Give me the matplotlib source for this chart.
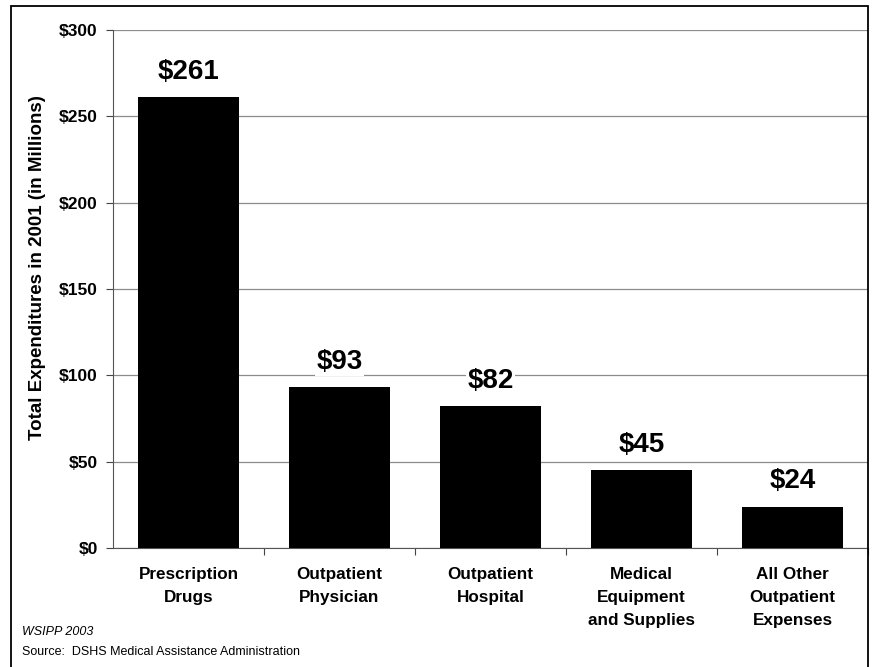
import matplotlib.pyplot as plt
from matplotlib.patches import Rectangle

plt.rcParams['font.family'] = ['Liberation Sans', 'DejaVu Sans']

categories = ["Prescription\nDrugs", "Outpatient\nPhysician", "Outpatient\nHospital",
              "Medical\nEquipment\nand Supplies", "All Other\nOutpatient\nExpenses"]
spending = [261, 93, 82, 45, 24]
yticks = [0, 50, 100, 150, 200, 250, 300]

fig = plt.figure(figsize=(8.77, 6.67), dpi=100)
ax = fig.add_axes([113 / 877, 1 - 548 / 667, 755 / 877, 518 / 667])

x = range(len(spending))
ax.bar(x, spending, width=0.67, color="black", zorder=3)

for xi, v in zip(x, spending):
    ax.annotate(f"${v}", (xi, v), xytext=(0, 9), textcoords="offset points",
                ha="center", va="bottom", fontsize=20, fontweight="bold",
                bbox=dict(facecolor="white", edgecolor="none", pad=1), zorder=4)

ax.set_xlim(-0.5, len(spending) - 0.5)
ax.set_ylim(0, 300)
ax.set_yticks(yticks)
ax.set_yticklabels([f"${t}" for t in yticks], fontsize=12.5, fontweight="bold")
ax.yaxis.grid(True, color="#8c8c8c", linewidth=0.9, zorder=0)

# category labels sit between ticks placed at the boundaries
ax.set_xticks([i + 0.5 for i in range(len(spending) - 1)] + [len(spending) - 0.5])
ax.set_xticklabels([])
ax.tick_params(axis="x", length=5, direction="out", color="#444444")
ax.tick_params(axis="y", length=5, direction="out", color="#444444", pad=6)
for xi, lab in zip(x, categories):
    ax.text(xi, -11, lab, ha="center", va="top", fontsize=12.3, fontweight="bold",
            linespacing=1.66, transform=ax.transData)

for side in ("top", "right"):
    ax.spines[side].set_visible(False)
ax.spines["left"].set_color("#555555")
ax.spines["bottom"].set_color("#555555")

ax.set_ylabel("Total Expenditures in 2001 (in Millions)", fontsize=13.5,
              fontweight="bold")
ax.yaxis.set_label_coords(-0.089, 0.542)

fig.text(22 / 877, 1 - 632 / 667, "WSIPP 2003", fontsize=9, style="italic", va="center")
fig.text(22 / 877, 1 - 652 / 667, "Source:  DSHS Medical Assistance Administration",
         fontsize=9, va="center")

# outer frame, open at the bottom edge
fig.add_artist(Rectangle((10.5 / 877, -0.01), 857 / 877, 1 - 6 / 667 + 0.01,
                         transform=fig.transFigure, fill=False,
                         edgecolor="black", linewidth=1.3))

fig.savefig("out.png", dpi=100)
